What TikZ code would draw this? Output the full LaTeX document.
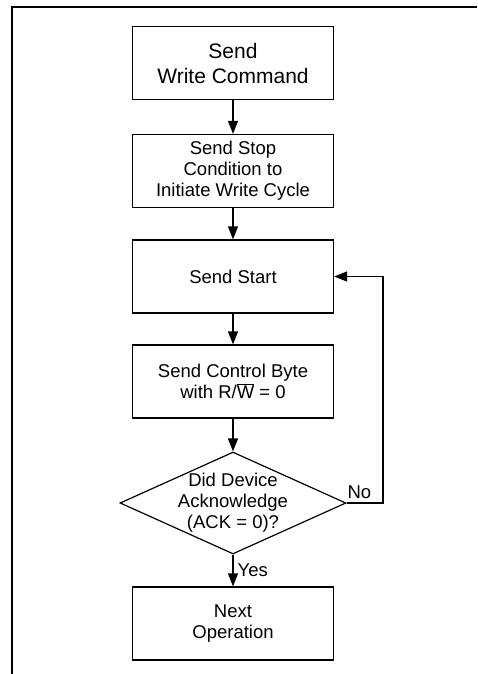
\documentclass[tikz,border=0pt]{standalone}
\usepackage{fontspec}
\setmainfont{Liberation Sans}
\usetikzlibrary{shapes.geometric,arrows.meta}

\begin{document}
\begin{tikzpicture}[x=1pt, y=-1pt, line width=1.2pt,
    every node/.style={font=\fontsize{18.5}{21}\selectfont, align=center},
    box/.style={draw, minimum width=201pt, minimum height=73pt, inner sep=0pt},
    decision/.style={draw, diamond, minimum width=226pt, minimum height=102pt, inner sep=0pt},
    flow/.style={-{Triangle[length=13pt,width=10pt]}}]
    \useasboundingbox (0,0) rectangle (477,674);
    % page frame
    \draw[line width=1.8pt] (12,674) -- (12,7) -- (477,7);

    \node[box, font=\fontsize{21}{25}\selectfont] (write) at (233,63) {Send\\Write Command};
    \node[box] (stop) at (233,171) {Send Stop\\Condition to\\Initiate Write Cycle};
    \node[box] (start) at (233,276.5) {Send Start};
    \node[box] (ctrl) at (233,381.5) {Send Control Byte\\with R/$\overline{\hbox{W}}$ = 0};
    \node[decision] (ack) at (233,503) {};
    \node (acktext) at (ack) {Did Device\\Acknowledge\\(ACK = 0)?};
    \node[box] (next) at (233,623.5) {Next\\Operation};
    \coordinate (loop) at (383,503);

    \draw[flow] (write) -- (stop);
    \draw[flow] (stop) -- (start);
    \draw[flow] (start) -- (ctrl);
    \draw[flow] (ctrl.south) -- (ack.north);
    \draw[flow] (ack.south) -- node[right, inner sep=4pt]{Yes} (next.north);
    \draw[flow] (ack.east) -- node[above, pos=0.35]{No} (loop) |- (start.east);
\end{tikzpicture}
\end{document}
